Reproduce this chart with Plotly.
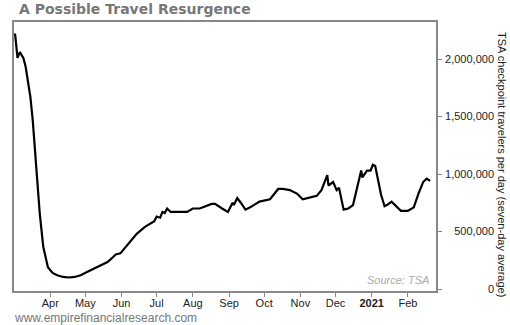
import plotly.graph_objects as go

dates = [
    "2020-03-01", "2020-03-02", "2020-03-04", "2020-03-06", "2020-03-09", "2020-03-11",
    "2020-03-13", "2020-03-15", "2020-03-17", "2020-03-20", "2020-03-23", "2020-03-26",
    "2020-03-30", "2020-04-03", "2020-04-07", "2020-04-12", "2020-04-17", "2020-04-22",
    "2020-04-27", "2020-05-02", "2020-05-05", "2020-05-08", "2020-05-14", "2020-05-20",
    "2020-05-24", "2020-05-27", "2020-05-31", "2020-06-04", "2020-06-14", "2020-06-21",
    "2020-06-29", "2020-07-01", "2020-07-04", "2020-07-06", "2020-07-08", "2020-07-10",
    "2020-07-13", "2020-07-20", "2020-07-27", "2020-08-01", "2020-08-07", "2020-08-17",
    "2020-08-20", "2020-08-26", "2020-08-31", "2020-09-03", "2020-09-04", "2020-09-05",
    "2020-09-08", "2020-09-11", "2020-09-13", "2020-09-15", "2020-09-19", "2020-09-27",
    "2020-10-06", "2020-10-09", "2020-10-13", "2020-10-17", "2020-10-21", "2020-10-23",
    "2020-10-29", "2020-11-03", "2020-11-07", "2020-11-15", "2020-11-19", "2020-11-24",
    "2020-11-25", "2020-11-29", "2020-12-02", "2020-12-04", "2020-12-08", "2020-12-12",
    "2020-12-16", "2020-12-20", "2020-12-23", "2020-12-24", "2020-12-28", "2020-12-31",
    "2021-01-02", "2021-01-04", "2021-01-06", "2021-01-09", "2021-01-12", "2021-01-14",
    "2021-01-18", "2021-01-22", "2021-01-26", "2021-02-01", "2021-02-06", "2021-02-10",
    "2021-02-14", "2021-02-17", "2021-02-20",
]
travelers = [
    2220000, 2210000, 2010000, 2060000, 2010000, 1930000,
    1800000, 1670000, 1470000, 1030000, 660000, 370000,
    190000, 140000, 120000, 105000, 100000, 105000,
    120000, 145000, 160000, 180000, 205000, 235000,
    270000, 300000, 310000, 360000, 480000, 540000,
    590000, 630000, 620000, 670000, 660000, 700000,
    670000, 670000, 670000, 700000, 700000, 740000,
    740000, 700000, 670000, 730000, 750000, 730000,
    790000, 750000, 720000, 690000, 710000, 760000,
    780000, 820000, 870000, 870000, 860000, 860000,
    830000, 780000, 790000, 810000, 860000, 990000,
    900000, 930000, 860000, 880000, 690000, 700000,
    730000, 890000, 1030000, 970000, 1030000, 1030000,
    1080000, 1070000, 970000, 820000, 720000, 730000,
    760000, 720000, 680000, 680000, 710000, 830000,
    930000, 960000, 940000,
]

month_ticks = ["2020-04-01", "2020-05-01", "2020-06-01", "2020-07-01", "2020-08-01",
               "2020-09-01", "2020-10-01", "2020-11-01", "2020-12-01", "2021-01-01",
               "2021-02-01"]
month_labels = ["Apr", "May", "Jun", "Jul", "Aug", "Sep", "Oct", "Nov", "Dec",
                "<b>2021</b>", "Feb"]
y_ticks = [0, 500000, 1000000, 1500000, 2000000]
y_labels = ["0", "500,000", "1,000,000", "1,500,000", "2,000,000"]

W, H = 510, 325
L, R, T, B = 14, 436, 22, 291      # plot frame in pixels
PR = 494                            # paper right (pixels)
px_per_unit = 115 / 1e6
zero_px = 289
y_range = [-(B - zero_px) / px_per_unit, (zero_px - T) / px_per_unit]

fig = go.Figure()
fig.add_trace(go.Scatter(x=dates, y=travelers, mode="lines",
                         line=dict(color="#000000", width=2.2),
                         hoverinfo="skip", showlegend=False))
fig.add_trace(go.Scatter(x=dates, y=travelers, mode="lines", yaxis="y2",
                         line=dict(color="rgba(0,0,0,0)", width=0),
                         hoverinfo="skip", showlegend=False))

axis_font = dict(family="Liberation Sans, Arial", size=11, color="#222222")
fig.update_layout(
    width=W, height=H,
    margin=dict(l=L, r=W - PR, t=T, b=H - B),
    paper_bgcolor="white", plot_bgcolor="white",
    showlegend=False,
    xaxis=dict(
        domain=[0, (R - L) / (PR - L)],
        type="date", range=["2020-03-01", "2021-02-25"],
        tickvals=month_ticks, ticktext=month_labels,
        ticks="outside", ticklen=4, tickcolor="#888888", tickwidth=1,
        ticklabelstandoff=-3,
        showline=True, linecolor="#888888", linewidth=1.5, mirror=True,
        showgrid=False, zeroline=False, tickfont=axis_font,
    ),
    yaxis=dict(
        side="right", anchor="x", range=y_range,
        tickvals=y_ticks, ticks="outside", ticklen=4, tickcolor="#888888",
        showticklabels=False,
        showline=True, linecolor="#888888", linewidth=1.5, mirror=True,
        showgrid=False, zeroline=False,
    ),
    yaxis2=dict(
        overlaying="y", side="left", anchor="free", position=1.0, range=y_range,
        tickvals=y_ticks, ticktext=y_labels, ticks="",
        tickfont=axis_font,
        showline=False, showgrid=False, zeroline=False,
    ),
)

fig.add_annotation(text="A Possible Travel Resurgence", xref="paper", yref="paper",
                   x=0, y=1, xanchor="left", yanchor="bottom", yshift=3, xshift=3,
                   showarrow=False,
                   font=dict(family="DejaVu Sans", size=14, color="#777777", weight="bold"))
fig.add_annotation(text="TSA checkpoint travelers per day (seven-day average)",
                   xref="paper", yref="paper", x=1, y=(B - 164) / (B - T),
                   xanchor="left", yanchor="middle", xshift=0, textangle=90,
                   showarrow=False,
                   font=dict(family="Liberation Sans, Arial", size=11, color="#222222"))
fig.add_annotation(text="<i>Source: TSA</i>", xref="paper", yref="paper",
                   x=(431 - L) / (PR - L), y=(B - 288) / (B - T),
                   xanchor="right", yanchor="bottom",
                   showarrow=False,
                   font=dict(family="Liberation Sans, Arial", size=11, color="#aaaaaa"))
fig.add_annotation(text="www.empirefinancialresearch.com", xref="paper", yref="paper",
                   x=0, y=(B - 318) / (B - T), xanchor="left", yanchor="middle",
                   xshift=-2, showarrow=False,
                   font=dict(family="Liberation Sans, Arial", size=12, color="#777777"))

fig.write_html("out.html")
